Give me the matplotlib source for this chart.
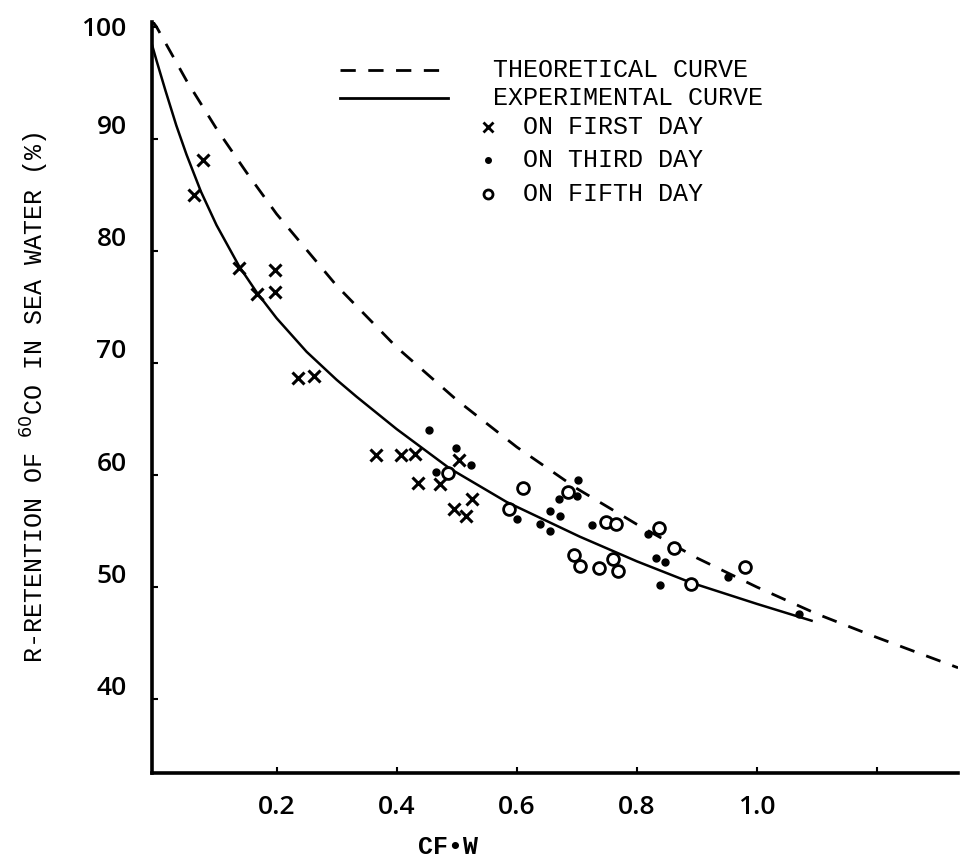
import matplotlib
matplotlib.use("Agg")
import matplotlib.pyplot as plt
from matplotlib.transforms import ScaledTranslation


# theoretical curve
theo_x = [-0.008, 0.0, 0.05, 0.1, 0.15, 0.2, 0.3, 0.4, 0.5, 0.6, 0.7, 0.8, 0.9, 1.0, 1.1, 1.2, 1.3, 1.335]
theo_y = [100.6, 100.0, 95.2, 90.9, 87.0, 83.3, 76.9, 71.4, 66.7, 62.5, 58.8, 55.6, 52.6, 50.0, 47.6, 45.5, 43.5, 42.8]

# experimental curve
exp_x = [-0.008, 0.0, 0.015, 0.033, 0.05, 0.074, 0.1, 0.138, 0.167, 0.2, 0.25, 0.3, 0.333,
         0.4, 0.488, 0.583, 0.705, 0.8, 0.89, 1.0, 1.091]
exp_y = [98.5, 97.0, 94.3, 91.2, 88.6, 85.3, 82.3, 78.6, 76.3, 74.0, 71.0, 68.5, 67.0,
         64.1, 60.6, 57.6, 54.5, 52.3, 50.4, 48.5, 47.0]

# points measured on the first day (x)
day1_x = [0.062, 0.077, 0.138, 0.197, 0.167, 0.198, 0.235, 0.262, 0.366, 0.407, 0.430,
          0.436, 0.473, 0.503, 0.526, 0.496, 0.516]
day1_y = [85.0, 88.1, 78.5, 78.3, 76.2, 76.3, 68.7, 68.8, 61.8, 61.8, 61.9,
          59.3, 59.2, 61.3, 57.9, 57.0, 56.3]

# points measured on the third day (dots)
day3_x = [0.454, 0.498, 0.523, 0.466, 0.601, 0.638, 0.656, 0.656, 0.672, 0.670, 0.702,
          0.700, 0.726, 0.818, 0.832, 0.847, 0.838, 0.952, 1.07]
day3_y = [64.0, 62.4, 60.9, 60.3, 56.1, 55.6, 55.0, 56.8, 56.3, 57.9, 59.6,
          58.1, 55.5, 54.7, 52.6, 52.2, 50.2, 50.9, 47.6]

# points measured on the fifth day (open circles)
day5_x = [0.486, 0.610, 0.587, 0.686, 0.748, 0.766, 0.837, 0.862, 0.695, 0.705, 0.737,
          0.760, 0.769, 0.890, 0.980]
day5_y = [60.2, 58.8, 57.0, 58.5, 55.8, 55.6, 55.3, 53.5, 52.9, 51.9, 51.7,
          52.5, 51.4, 50.3, 51.8]

x_ticks = [0.2, 0.4, 0.6, 0.8, 1.0, 1.2]
x_tick_labels = ["0.2", "0.4", "0.6", "0.8", "1.0", ""]
y_ticks = [40, 50, 60, 70, 80, 90, 100]

MONO = ["Liberation Mono", "DejaVu Sans Mono"]
SANS = ["Open Sans", "DejaVu Sans"]

fig = plt.figure(figsize=(9.6, 8.59), dpi=100)
ax = fig.add_axes([0.158, 0.100, 0.840, 0.874])

ax.plot(theo_x, theo_y, color="black", lw=2.0, dashes=(5.5, 4.5))
ax.plot(exp_x, exp_y, color="black", lw=1.8)

ax.plot(day1_x, day1_y, ls="none", marker="x", ms=8.5, mew=2.2, color="black")
ax.plot(day3_x, day3_y, ls="none", marker="o", ms=5, color="black")
ax.plot(day5_x, day5_y, ls="none", marker="o", ms=8.5, mew=2.0,
        mfc="white", mec="black")

ax.set_xlim(-0.008, 1.335)
ax.set_ylim(33.4, 100.4)

for side in ("top", "right"):
    ax.spines[side].set_visible(False)
for side in ("left", "bottom"):
    ax.spines[side].set_linewidth(2.6)

ax.set_xticks(x_ticks)
ax.set_xticklabels(x_tick_labels, family=SANS, fontsize=19, fontweight="semibold")
ax.set_yticks(y_ticks)
ax.set_yticklabels([str(v) for v in y_ticks], family=SANS, fontsize=19,
                   fontweight="semibold")
ax.tick_params(axis="both", direction="in", length=4, width=1.5)
ax.tick_params(axis="x", pad=16)
ax.tick_params(axis="y", pad=18)

# the typed y labels sit a little above their tick marks in the original
lift = ScaledTranslation(0, 0.14, fig.dpi_scale_trans)
for lab in ax.get_yticklabels()[:-1]:
    lab.set_transform(lab.get_transform() + lift)

ax.set_xlabel("CF\u2022W", family=MONO, fontsize=18, fontweight="bold")
ax.xaxis.set_label_coords(0.367, -0.083)
ax.set_ylabel("R-RETENTION OF $^{60}$CO IN SEA WATER (%)", family=MONO,
              fontsize=18, labelpad=22)

# hand-drawn style legend
tr = ax.transAxes
ax.plot([0.233, 0.367], [0.936, 0.936], transform=tr, color="black", lw=2.0,
        dashes=(5.5, 4.5))
ax.plot([0.233, 0.367], [0.899, 0.899], transform=tr, color="black", lw=2.0)
ax.plot([0.417], [0.860], transform=tr, marker="x", ms=7, mew=2, color="black")
ax.plot([0.417], [0.817], transform=tr, marker="o", ms=4, color="black")
ax.plot([0.417], [0.772], transform=tr, marker="o", ms=6.5, mew=2,
        mfc="white", mec="black")

legend_rows = [
    (0.423, 0.936, "THEORETICAL CURVE"),
    (0.423, 0.899, "EXPERIMENTAL CURVE"),
    (0.460, 0.860, "ON FIRST DAY"),
    (0.460, 0.817, "ON THIRD DAY"),
    (0.460, 0.772, "ON FIFTH DAY"),
]
for tx, ty, label in legend_rows:
    ax.text(tx, ty, label, transform=tr, family=MONO, fontsize=18,
            va="center", ha="left")

fig.savefig("out.png", dpi=100)
